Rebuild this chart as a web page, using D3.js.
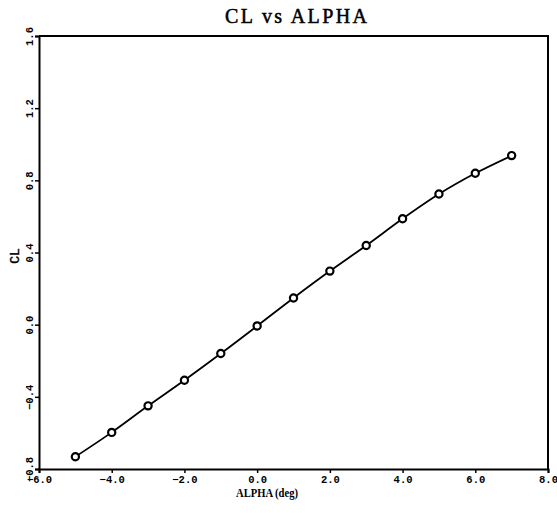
<!DOCTYPE html>
<html>
<head>
<meta charset="utf-8">
<script src="https://cdn.jsdelivr.net/npm/d3@7"></script>
<style>
  body { margin: 0; background: #fff; }
  text { font-family: "Liberation Mono", "DejaVu Sans Mono", monospace; fill: #000; }
  .serif { font-family: "Liberation Serif", "DejaVu Serif", serif; }
</style>
</head>
<body>
<div id="chart"></div>
<script>
// Set up conventions
let width = 557;
let height = 513;
let margin = ({top: 36, right: 9, bottom: 44, left: 39});

// data
let alpha = [-5, -4, -3, -2, -1, 0, 1, 2, 3, 4, 5, 6, 7];
let cl = [-0.732, -0.597, -0.450, -0.308, -0.160, -0.007, 0.148, 0.297, 0.439, 0.587, 0.724, 0.839, 0.937];
let xTicks = [-6, -4, -2, 0, 2, 4, 6, 8];
let yTicks = [-0.8, -0.4, 0.0, 0.4, 0.8, 1.2, 1.6];

let data = alpha.map((a, i) => ({alpha: a, cl: cl[i]}));

let svg = d3.select("#chart")
    .append("svg")
    .attr("width", width)
    .attr("height", height)

let xScale = d3.scaleLinear()
    .domain([-6, 8])
    .range([margin.left, width - margin.right])

let yScale = d3.scaleLinear()
    .domain([-0.8, 1.6])
    .range([height - margin.bottom, margin.top])

// x axis
let xAxis = d3.axisBottom(xScale)
    .tickValues(xTicks)
    .tickSize(4)
    .tickPadding(3)
    .tickFormat(d3.format(".1f"))

let gx = svg.append("g")
    .attr("transform", "translate(0," + (height - margin.bottom) + ")")
    .call(xAxis)
gx.select(".domain").attr("stroke-width", 2)
gx.selectAll(".tick line").attr("stroke-width", 1.5)
gx.selectAll("text")
    .style("font-size", "10.5px")
    .style("font-weight", "bold")

// y axis, labels rotated
let yAxis = d3.axisLeft(yScale)
    .tickValues(yTicks)
    .tickSize(4)
    .tickFormat(d3.format(".1f"))

let gy = svg.append("g")
    .attr("transform", "translate(" + margin.left + ",0)")
    .call(yAxis)
gy.select(".domain").attr("stroke-width", 2)
gy.selectAll(".tick line").attr("stroke-width", 1.5)
gy.selectAll("text")
    .attr("x", null).attr("dy", null)
    .attr("text-anchor", "middle")
    .attr("transform", "translate(-6,0) rotate(-90)")
    .style("font-size", "10.5px")
    .style("font-weight", "bold")

// top and right frame
svg.append("path")
    .attr("d", "M" + margin.left + "," + margin.top + "H" + (width - margin.right) + "V" + (height - margin.bottom))
    .attr("fill", "none")
    .attr("stroke", "#000")
    .attr("stroke-width", 2)

// curve through points
let line = d3.line()
    .curve(d3.curveCatmullRom)
    .x(d => xScale(d.alpha))
    .y(d => yScale(d.cl))

svg.append("path")
    .datum(data)
    .attr("d", line)
    .attr("fill", "none")
    .attr("stroke", "#000")
    .attr("stroke-width", 1.8)

svg.selectAll(".pt")
    .data(data)
    .enter()
    .append("circle")
    .attr("class", "pt")
    .attr("cx", d => xScale(d.alpha))
    .attr("cy", d => yScale(d.cl))
    .attr("r", 3.6)
    .attr("fill", "#fff")
    .attr("stroke", "#000")
    .attr("stroke-width", 2.2)

// titles
svg.append("text")
    .attr("class", "serif")
    .attr("x", 296)
    .attr("y", 23)
    .attr("text-anchor", "middle")
    .attr("textLength", 142)
    .attr("lengthAdjust", "spacing")
    .style("font-size", "20px")
    .style("stroke", "#000")
    .style("stroke-width", 0.5)
    .text("CL vs ALPHA")

svg.append("text")
    .attr("class", "serif")
    .attr("x", 267)
    .attr("y", 497)
    .attr("text-anchor", "middle")
    .attr("textLength", 62)
    .attr("lengthAdjust", "spacingAndGlyphs")
    .style("font-size", "12.5px")
    .style("font-weight", "bold")
    .text("ALPHA (deg)")

svg.append("text")
    .attr("transform", "translate(19,256) rotate(-90)")
    .attr("text-anchor", "middle")
    .style("font-size", "13px")
    .style("stroke", "#000")
    .style("stroke-width", 0.4)
    .text("CL")
</script>
</body>
</html>
